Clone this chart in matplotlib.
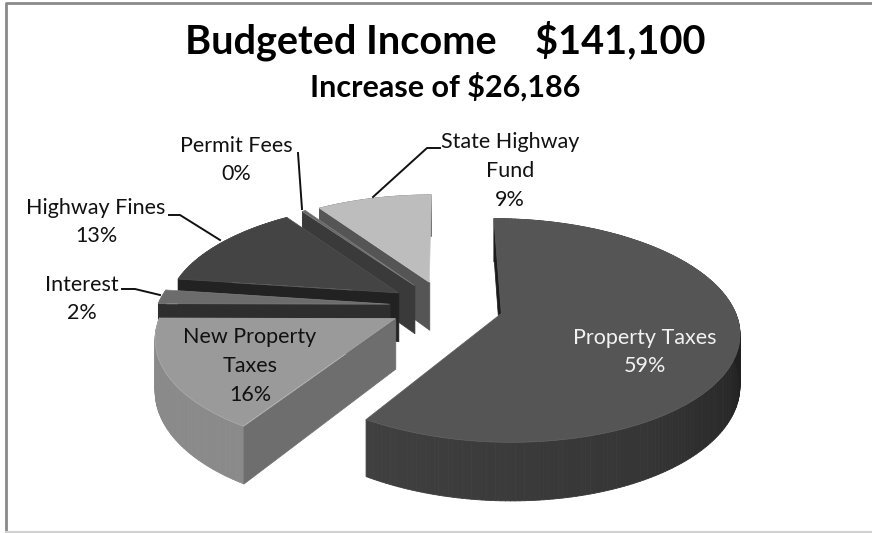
import numpy as np
import matplotlib
matplotlib.use("Agg")
from matplotlib import pyplot as plt
from matplotlib.collections import PolyCollection
from matplotlib.transforms import Transform

plt.rcParams['font.family'] = ['Lato', 'DejaVu Sans']

# Slices clockwise from 12 o'clock, share of the budget in percent
categories = ['Property Taxes', 'New Property Taxes', 'Interest', 'Highway Fines', 'Permit Fees', 'State Highway Fund']
shares = [58.9, 16.1, 2.1, 13.1, 0.3, 9.4]
percent_labels = ['59%', '16%', '2%', '13%', '0%', '9%']
explode = [0.25, 0.24, 0.24, 0.24, 0.24, 0.24]

top_colors = ['#555555', '#9a9a9a', '#6c6c6c', '#444444', '#666666', '#bdbdbd']
edge_colors = ['#606060', '#acacac', '#808080', '#505050', '#808080', '#c8c8c8']
cut_colors = ['#1c1c1c', '#6e6e6e', '#2e2e2e', '#222222', '#3a3a3a', '#555555']
# Outer wall shading, by angle (counter clockwise degrees)
rim_angles = [[-122, -60, -10, 40, 90], [180, 210, 238]]
rim_grays = [[0.25, 0.21, 0.13, 0.10, 0.10], [0.54, 0.58, 0.48]]
draw_order = [5, 4, 3, 2, 1, 0]

# Projection of the flat pie to the tilted view, in image pixels
CX, CY = 445, 306
SX, SY = 232, 107
TILT = 0.15
DEPTH = 0.46


def project(x, y, depth=0.0):
    w = 1 + TILT * y
    return CX + SX * x / w, CY - SY * (y - depth) / w


class TiltTransform(Transform):
    input_dims = 2
    output_dims = 2
    is_separable = False

    def transform_non_affine(self, values):
        values = np.asarray(values)
        px, py = project(values[:, 0], values[:, 1])
        return np.column_stack([px, py])


fig = plt.figure(figsize=(8.72, 5.33), dpi=100)
ax = fig.add_axes([0, 0, 1, 1])

wedges, _ = ax.pie(shares, explode=explode, startangle=90, counterclock=False, colors=top_colors)
ax.set_aspect('auto')
ax.set_xlim(0, 872)
ax.set_ylim(533, 0)
ax.axis('off')

tilt = TiltTransform() + ax.transData

for order, i in enumerate(draw_order):
    w = wedges[i]
    base = 10 * (order + 1)
    x0, y0 = w.center
    t1, t2 = w.theta1, w.theta2
    # outer wall, drawn as narrow strips so it can be shaded
    steps = np.linspace(t1, t2, max(int(t2 - t1), 2) + 1)
    quads, grays = [], []
    for a, b in zip(steps[:-1], steps[1:]):
        xa, ya = x0 + np.cos(np.radians(a)), y0 + np.sin(np.radians(a))
        xb, yb = x0 + np.cos(np.radians(b)), y0 + np.sin(np.radians(b))
        quads.append([project(xa, ya), project(xb, yb), project(xb, yb, DEPTH), project(xa, ya, DEPTH)])
        if i < 2:
            grays.append(str(np.interp((a + b) / 2, rim_angles[i], rim_grays[i])))
        else:
            grays.append(cut_colors[i])
    ax.add_collection(PolyCollection(quads, facecolors=grays, edgecolors=grays, linewidths=0.6, zorder=base))
    # cut face on the side where the slice starts
    xr, yr = x0 + np.cos(np.radians(t2)), y0 + np.sin(np.radians(t2))
    face = [project(x0, y0), project(xr, yr), project(xr, yr, DEPTH), project(x0, y0, DEPTH)]
    ax.add_collection(PolyCollection([face], facecolors=cut_colors[i], edgecolors=cut_colors[i],
                                     linewidths=0.5, zorder=base + 1))
    # flat top of the slice
    w.set_transform(tilt)
    w.set_clip_on(False)
    w.set_edgecolor(edge_colors[i])
    w.set_linewidth(0.5)
    w.set_zorder(base + 2)

# Chart frame
ax.plot([5.5, 5.5, 872], [533, 3, 3], color='#8a8a8a', lw=2, zorder=1, clip_on=False)
ax.plot([5.5, 872], [532, 532], color='#d0d0d0', lw=1.5, zorder=1)

# Titles
ax.text(445, 41, 'Budgeted Income    $141,100', fontsize=28.5, fontweight='bold', color='black',
        ha='center', va='center', zorder=100)
ax.text(445, 87, 'Increase of $26,186', fontsize=22, fontweight='bold', color='black',
        ha='center', va='center', zorder=100)

# Leader lines
leaders = [
    ([298, 302], [153, 209]),
    ([440, 427, 373], [148, 148, 197]),
    ([169, 180, 220], [215, 215, 240]),
    ([122, 135, 160], [289, 289, 295]),
]
for lx, ly in leaders:
    ax.plot(lx, ly, color='#111111', lw=1.4, zorder=90)

# Data labels
label_font = dict(fontsize=15.5, ha='center', va='center', linespacing=1.55, zorder=100)
ax.text(645, 352, f'{categories[0]}\n{percent_labels[0]}', color='#f2f2f2', **label_font)
ax.text(250, 366, 'New Property\nTaxes\n' + percent_labels[1], color='#111111', **label_font)
ax.text(82, 299, f'{categories[2]}\n{percent_labels[2]}', color='#111111', **label_font)
ax.text(96, 222, f'{categories[3]}\n{percent_labels[3]}', color='#111111', **label_font)
ax.text(236, 160, f'{categories[4]}\n{percent_labels[4]}', color='#111111', **label_font)
ax.text(510, 171, 'State Highway\nFund\n' + percent_labels[5], color='#111111', **label_font)

fig.savefig('out.png', dpi=100, facecolor='white')
